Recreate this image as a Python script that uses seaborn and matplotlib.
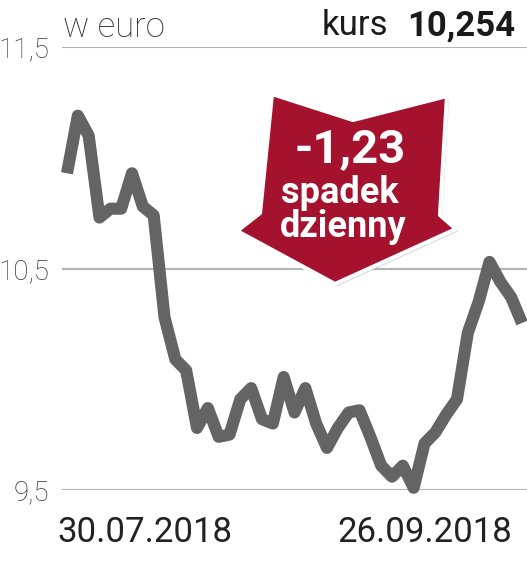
import matplotlib
matplotlib.use("Agg")
import matplotlib.pyplot as plt
import matplotlib.patheffects as pe
from matplotlib.patches import Polygon
import numpy as np
import pandas as pd
import seaborn as sns

# ---- data ----
values = [10.93, 11.19, 11.10, 10.73, 10.77, 10.77, 10.93, 10.78, 10.74, 10.28,
          10.09, 10.04, 9.78, 9.87, 9.74, 9.75, 9.91, 9.96, 9.82, 9.80,
          10.01, 9.85, 9.96, 9.80, 9.69, 9.78, 9.85, 9.86, 9.74, 9.61,
          9.56, 9.61, 9.51, 9.71, 9.76, 9.84, 9.91, 10.21, 10.35, 10.53,
          10.44, 10.37, 10.254]
ytick_vals = [9.5, 10.5, 11.5]
ytick_labels = ["9,5", "10,5", "11,5"]
date_labels = ["30.07.2018", "26.09.2018"]
unit_label = "w euro"
kurs_label = "kurs"
kurs_value = "10,254"
change_value = "-1,23"
change_text = ["spadek", "dzienny"]

df = pd.DataFrame({"idx": np.arange(len(values)), "val": values})

sns.set_theme(style="white")
plt.rcParams["font.family"] = ["Roboto", "DejaVu Sans"]

W, H = 527, 568
fig = plt.figure(figsize=(W / 100, H / 100), dpi=100)
ax = fig.add_axes([62 / W, 1 - 490 / H, (W - 62) / W, (490 - 47) / H])

n = len(values)
step = (522 - 67) / (n - 1)
ax.set_xlim(-(67 - 62) / step, (n - 1) + (527 - 522) / step)
ax.set_ylim(9.5, 11.5)

ax.set_yticks(ytick_vals)
ax.set_yticklabels(ytick_labels, fontsize=20, fontweight="light", color="#333333")
ax.yaxis.grid(True, color="#b4b4b4", linewidth=1.5)
ax.tick_params(axis="y", length=0, pad=9)

ax.set_xticks([(145 - 67) / step, (425 - 67) / step])
ax.set_xticklabels(date_labels, fontsize=25, color="#222222")
ax.tick_params(axis="x", length=0, pad=19)

for s in ax.spines.values():
    s.set_visible(False)

sns.lineplot(data=df, x="idx", y="val", ax=ax, color="#646464", linewidth=8.7,
             solid_joinstyle="round", solid_capstyle="butt", clip_on=False, zorder=3)
ax.set_xlabel("")
ax.set_ylabel("")

# arrow badge (figure pixel coords -> fraction)
pts = [(272, 94), (353, 120), (447, 96), (440, 215), (456, 229), (335, 284),
       (237, 231), (260, 213)]
poly = Polygon([(x / W, 1 - y / H) for x, y in pts], closed=True,
               transform=fig.transFigure, facecolor="#a5122e", edgecolor="white",
               linewidth=3, joinstyle="round", zorder=10,
               path_effects=[pe.SimplePatchShadow(offset=(1.5, -1.5), shadow_rgbFace="#b0b0b0", alpha=0.7),
                             pe.Normal()])
fig.patches.append(poly)

fig.text(350 / W, 1 - 149 / H, change_value, color="white", fontsize=34,
         fontweight="bold", ha="center", va="center", zorder=11)
fig.text(340 / W, 1 - 193 / H, change_text[0], color="white", fontsize=26,
         fontweight="bold", ha="center", va="center", zorder=11)
fig.text(343 / W, 1 - 227 / H, change_text[1], color="white", fontsize=26,
         fontweight="bold", ha="center", va="center", zorder=11)

# header
fig.text(63 / W, 1 - 37 / H, unit_label, fontsize=25, fontweight="light",
         color="#333333", ha="left", va="baseline")
fig.text(515 / W, 1 - 35 / H, kurs_value, fontsize=25, fontweight="bold",
         color="#1a1a1a", ha="right", va="baseline")
fig.text(388 / W, 1 - 35 / H, kurs_label, fontsize=25, color="#1a1a1a",
         ha="right", va="baseline")

fig.savefig("out.png", dpi=100)
